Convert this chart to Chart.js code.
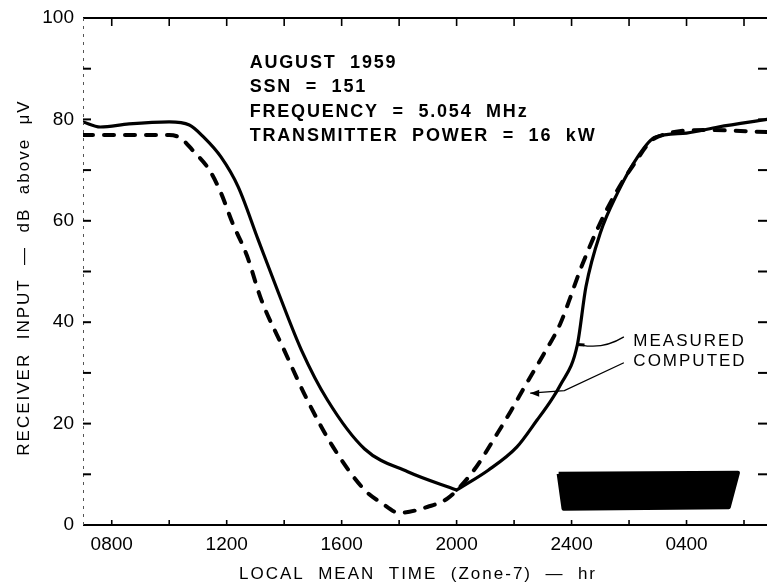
<!DOCTYPE html>
<html>
<head>
<meta charset="utf-8">
<script src="https://cdn.jsdelivr.net/npm/chart.js@4.4.1/dist/chart.umd.min.js"></script>
<style>
  html, body { margin: 0; padding: 0; background: #fff; }
  #wrap { width: 767px; height: 585px; }
</style>
</head>
<body>
<div id="wrap"><canvas id="c" width="767" height="585"></canvas></div>
<script>
// Local mean time in hours (values past 24 are the following morning)
const measuredTime  = [7.0, 7.6, 8.6, 10.0, 10.7, 11.2, 11.8, 12.4, 13.1, 13.8, 14.6, 15.5, 16.8, 18.3, 20.0,
                       21.1, 22.1, 22.8, 23.3, 23.6, 24.2, 24.5, 25.0, 25.6, 26.3, 26.9, 28.0, 29.1, 30.8];
const measuredValue = [79.5, 78.5, 79.1, 79.5, 78.9, 76.5, 72.6, 66.7, 56.2, 45.8, 34.5, 24.7, 15.0, 10.5, 6.9,
                       10.8, 15.4, 20.7, 24.7, 27.5, 35.5, 47.0, 57.6, 65.5, 72.6, 76.5, 77.3, 78.5, 80.0];

const computedTime  = [7.0, 8.6, 10.0, 10.4, 10.8, 11.4, 11.8, 12.2, 12.7, 13.2, 14.0, 14.8, 15.7, 16.8, 17.4, 18.0,
                       19.0, 19.7, 20.6, 21.4, 21.9, 22.4, 23.0, 23.6, 23.9, 24.3, 25.0, 25.6, 26.2, 26.9, 28.7, 30.8];
const computedValue = [76.9, 76.9, 76.9, 76.3, 74.0, 70.0, 65.5, 59.6, 53.2, 44.5, 34.5, 24.7, 15.4, 6.9, 4.3, 2.4,
                       3.6, 5.3, 10.8, 17.9, 22.6, 27.6, 33.4, 39.6, 44.0, 50.3, 59.6, 66.1, 71.4, 76.3, 77.9, 77.5];

// Night-time block drawn near the time axis
const nightTime  = [23.55, 29.79, 29.47, 23.72, 23.55];
const nightValue = [10.1, 10.3, 3.5, 3.2, 10.1];

// Axis ranges and labelled ticks
const timeMin = 7, timeMax = 30.8;
const timeLabelHours = [8, 12, 16, 20, 24, 28];
const timeLabels = ['0800', '1200', '1600', '2000', '2400', '0400'];
const valueLabels = [0, 20, 40, 60, 80, 100];

const infoLines = ['AUGUST  1959', 'SSN  =  151', 'FREQUENCY  =  5.054  MHz', 'TRANSMITTER  POWER  =  16  kW'];

const pts = (xs, ys) => xs.map((t, i) => ({ x: t, y: ys[i] }));
// the measured curve has a sharp corner at its minimum, so it is drawn in two smooth pieces
const minIdx = measuredValue.indexOf(Math.min(...measuredValue));
const measuredA = pts(measuredTime.slice(0, minIdx + 1), measuredValue.slice(0, minIdx + 1));
const measuredB = pts(measuredTime.slice(minIdx), measuredValue.slice(minIdx));

const FONT = "'Liberation Sans', Arial, sans-serif";

function seg(ctx, x1, y1, x2, y2) { ctx.beginPath(); ctx.moveTo(x1, y1); ctx.lineTo(x2, y2); ctx.stroke(); }

const framePlugin = {
  id: 'frame',
  afterDraw(chart) {
    const { ctx, chartArea: a, scales: { x, y } } = chart;
    ctx.save();
    ctx.strokeStyle = '#000';
    ctx.lineCap = 'butt';
    // top and bottom axis lines
    ctx.lineWidth = 2;
    seg(ctx, a.left, a.top, a.right, a.top);
    seg(ctx, a.left, a.bottom, a.right, a.bottom);
    // faint broken left axis
    ctx.lineWidth = 1;
    ctx.strokeStyle = '#555';
    ctx.setLineDash([3, 5]);
    seg(ctx, a.left + 0.5, a.top, a.left + 0.5, a.bottom);
    ctx.setLineDash([]);
    ctx.strokeStyle = '#000';
    // inward tick marks
    ctx.lineWidth = 1.6;
    x.ticks.forEach(t => {
      const px = x.getPixelForValue(t.value);
      if (px <= a.left + 2 || px >= a.right - 1) return;
      seg(ctx, px, a.top, px, a.top + 8);
      seg(ctx, px, a.bottom, px, a.bottom - 5);
    });
    ctx.lineWidth = 2;
    y.ticks.forEach(t => {
      const py = y.getPixelForValue(t.value);
      if (t.value <= 0 || t.value >= 100) return;
      seg(ctx, a.left, py, a.left + 8, py);
      seg(ctx, a.right, py, a.right - 9, py);
    });

    // axis titles
    ctx.fillStyle = '#000';
    ctx.letterSpacing = '2px';
    ctx.font = `17px ${FONT}`;
    ctx.textAlign = 'center';
    ctx.textBaseline = 'middle';
    ctx.fillText('LOCAL  MEAN  TIME  (Zone-7)  —  hr', (a.left + a.right) / 2 - 7, 574);
    ctx.save();
    ctx.translate(24, (a.top + a.bottom) / 2 + 6);
    ctx.rotate(-Math.PI / 2);
    ctx.fillText('RECEIVER  INPUT  —  dB  above  μV', 0, 0);
    ctx.restore();

    // information block
    ctx.font = `bold 18px ${FONT}`;
    ctx.letterSpacing = '1.8px';
    ctx.textAlign = 'left';
    const ix = x.getPixelForValue(12.8);
    infoLines.forEach((s, i) => {
      ctx.fillText(s, ix, y.getPixelForValue(91.2) + i * 24.6);
    });

    // curve labels with leader lines
    ctx.font = `17px ${FONT}`;
    ctx.letterSpacing = '2px';
    const lx = x.getPixelForValue(26.15);
    ctx.fillText('MEASURED', lx, y.getPixelForValue(36.2));
    ctx.fillText('COMPUTED', lx, y.getPixelForValue(32.2));
    ctx.letterSpacing = '0px';

    ctx.lineWidth = 1.3;
    ctx.beginPath();
    ctx.moveTo(x.getPixelForValue(25.82), y.getPixelForValue(37.1));
    ctx.quadraticCurveTo(x.getPixelForValue(25.1), y.getPixelForValue(34.6),
                         x.getPixelForValue(24.35), y.getPixelForValue(35.5));
    ctx.stroke();
    ctx.lineWidth = 3;
    seg(ctx, x.getPixelForValue(24.2), y.getPixelForValue(35.6), x.getPixelForValue(24.45), y.getPixelForValue(35.5));

    ctx.lineWidth = 1.3;
    const ax = x.getPixelForValue(22.56), ay = y.getPixelForValue(26.0);
    ctx.beginPath();
    ctx.moveTo(x.getPixelForValue(25.82), y.getPixelForValue(32.0));
    ctx.lineTo(x.getPixelForValue(23.75), y.getPixelForValue(26.5));
    ctx.lineTo(ax, ay);
    ctx.stroke();
    ctx.beginPath();
    ctx.moveTo(ax, ay);
    ctx.lineTo(ax + 9, ay - 3.5);
    ctx.lineTo(ax + 9, ay + 3.5);
    ctx.closePath();
    ctx.fill();
    ctx.restore();
  }
};

new Chart(document.getElementById('c'), {
  type: 'scatter',
  data: {
    datasets: [
      { data: measuredA, showLine: true, borderColor: '#000', borderWidth: 3.2, pointRadius: 0,
        cubicInterpolationMode: 'monotone', borderCapStyle: 'round', borderJoinStyle: 'round' },
      { data: measuredB, showLine: true, borderColor: '#000', borderWidth: 3.2, pointRadius: 0,
        cubicInterpolationMode: 'monotone', borderCapStyle: 'round', borderJoinStyle: 'round' },
      { data: pts(computedTime, computedValue), showLine: true, borderColor: '#000', borderWidth: 4,
        borderDash: [10, 11], borderCapStyle: 'round', pointRadius: 0, cubicInterpolationMode: 'monotone' },
      { data: pts(nightTime, nightValue), showLine: true, borderColor: '#000', backgroundColor: '#000',
        borderWidth: 4, borderJoinStyle: 'round', pointRadius: 0, fill: 'shape', tension: 0 }
    ]
  },
  options: {
    responsive: false,
    animation: false,
    events: [],
    layout: { padding: { top: 18, right: 0, left: 0, bottom: 0 } },
    plugins: { legend: { display: false }, tooltip: { enabled: false } },
    scales: {
      x: {
        type: 'linear', min: timeMin, max: timeMax,
        border: { display: false },
        grid: { display: false },
        afterBuildTicks(scale) {
          const t = [];
          for (let h = 8; h <= 30; h += 2) t.push({ value: h });
          scale.ticks = t;
        },
        afterFit(scale) { scale.height = 60; },
        ticks: {
          autoSkip: false, maxRotation: 0, padding: 0, color: '#000',
          font: { family: FONT, size: 19 },
          callback(v) {
            const i = timeLabelHours.indexOf(v);
            return i >= 0 ? timeLabels[i] : '';
          }
        }
      },
      y: {
        min: 0, max: 100,
        border: { display: false },
        grid: { display: false },
        afterFit(scale) { scale.width = 83; },
        ticks: {
          stepSize: 10, padding: 1, color: '#000',
          font: { family: FONT, size: 19 },
          callback(v) { return valueLabels.includes(v) ? String(v) : ''; }
        }
      }
    }
  },
  plugins: [framePlugin]
});
</script>
</body>
</html>
